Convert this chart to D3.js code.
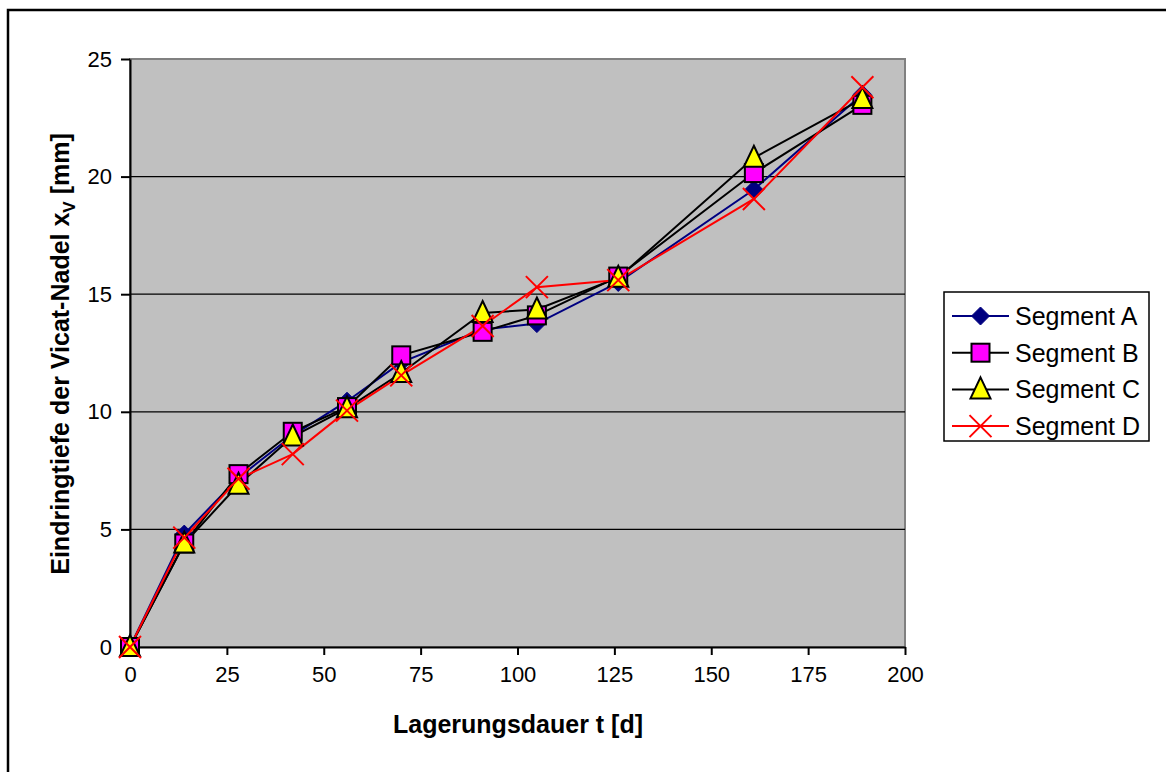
<!DOCTYPE html>
<html><head><meta charset="utf-8">
<script src="https://cdn.jsdelivr.net/npm/d3@7/dist/d3.min.js"></script>
<style>body{margin:0;background:#fff;}svg{display:block;font-family:"Liberation Sans",Arial,sans-serif;}</style>
</head><body><svg id="c" width="1166" height="772"></svg>
<script>
const days = [0, 14, 28, 42, 56, 70, 91, 105, 126, 161, 189];
const segA = [0, 4.8, 7.2, 9.0, 10.45, 12.1, 13.5, 13.75, 15.5, 19.45, 23.5];
const segB = [0, 4.4, 7.35, 9.15, 10.2, 12.4, 13.4, 14.1, 15.75, 20.15, 23.05];
const segC = [0, 4.4, 6.9, 8.95, 10.15, 11.65, 14.2, 14.35, 15.7, 20.8, 23.3];
const segD = [0, 4.65, 7.15, 8.2, 10.05, 11.55, 13.65, 15.3, 15.6, 19.05, 23.8];
const seriesNames = ["Segment A", "Segment B", "Segment C", "Segment D"];
const xTicks = [0, 25, 50, 75, 100, 125, 150, 175, 200];
const yTicks = [0, 5, 10, 15, 20, 25];

const svg = d3.select("#c");
const L = 130, R = 905, T = 59, B = 647;
const x = d3.scaleLinear().domain([0, 200]).range([L, R]);
const y = d3.scaleLinear().domain([0, 25]).range([B, T]);

// outer frame
svg.append("rect").attr("x", 8).attr("y", 10).attr("width", 1200).attr("height", 800)
  .attr("fill", "none").attr("stroke", "#000").attr("stroke-width", 2.5);

// plot area
svg.append("rect").attr("x", L).attr("y", T).attr("width", R - L).attr("height", B - T)
  .attr("fill", "#c0c0c0").attr("stroke", "#808080").attr("stroke-width", 2);

// gridlines
svg.append("g").selectAll("line").data(yTicks.filter(d => d > 0 && d < 25)).join("line")
  .attr("x1", L).attr("x2", R).attr("y1", d => y(d)).attr("y2", d => y(d))
  .attr("stroke", "#000").attr("stroke-width", 1.3);

// axes
const xAxis = d3.axisBottom(x).tickValues(xTicks).tickSize(8).tickSizeOuter(0).tickPadding(11);
const gx = svg.append("g").attr("transform", `translate(0,${B})`).call(xAxis);
const yAxis = d3.axisLeft(y).tickValues(yTicks).tickSize(9).tickSizeOuter(0).tickPadding(9);
const gy = svg.append("g").attr("transform", `translate(${L},0)`).call(yAxis);
[gx, gy].forEach(g => {
  g.attr("font-size", null).attr("font-family", null);
  g.select(".domain").attr("stroke", "#000").attr("stroke-width", 2);
  g.selectAll(".tick line").attr("stroke", "#000").attr("stroke-width", 2);
  g.selectAll(".tick text").attr("fill", "#000").style("font-size", "22px")
    .style("font-family", '"Liberation Sans",Arial,sans-serif');
});

// series
const series = [
  {name: seriesNames[0], vals: segA, line: "#000080", sym: "diamond"},
  {name: seriesNames[1], vals: segB, line: "#000000", sym: "square"},
  {name: seriesNames[2], vals: segC, line: "#000000", sym: "triangle"},
  {name: seriesNames[3], vals: segD, line: "#ff0000", sym: "cross"}
];
const lineGen = d3.line().x((d, i) => x(days[i])).y(d => y(d));

function drawMarker(g, type, cx, cy) {
  if (type === "diamond") {
    g.append("path").attr("d", `M${cx},${cy-9}L${cx+9},${cy}L${cx},${cy+9}L${cx-9},${cy}Z`)
      .attr("fill", "#000080").attr("stroke", "#000080").attr("stroke-width", 1);
  } else if (type === "square") {
    g.append("rect").attr("x", cx - 9).attr("y", cy - 9).attr("width", 18).attr("height", 18)
      .attr("fill", "#ff00ff").attr("stroke", "#000").attr("stroke-width", 2);
  } else if (type === "triangle") {
    g.append("path").attr("d", `M${cx},${cy-12}L${cx+10},${cy+9}L${cx-10},${cy+9}Z`)
      .attr("fill", "#ffff00").attr("stroke", "#000").attr("stroke-width", 2);
  } else {
    g.append("path").attr("d", `M${cx-11},${cy-11}L${cx+11},${cy+11}M${cx+11},${cy-11}L${cx-11},${cy+11}`)
      .attr("fill", "none").attr("stroke", "#ff0000").attr("stroke-width", 2);
  }
}

series.forEach(s => {
  svg.append("path").datum(s.vals).attr("d", lineGen)
    .attr("fill", "none").attr("stroke", s.line).attr("stroke-width", 2);
});
series.forEach(s => {
  const g = svg.append("g");
  s.vals.forEach((v, i) => drawMarker(g, s.sym, x(days[i]), y(v)));
});

// axis titles
svg.append("text").attr("x", 518).attr("y", 733).attr("text-anchor", "middle")
  .style("font-size", "25px").style("font-weight", "bold").text("Lagerungsdauer t [d]");
const yt = svg.append("text").attr("transform", "translate(69,354) rotate(-90)")
  .attr("text-anchor", "middle").style("font-size", "25px").style("font-weight", "bold");
yt.append("tspan").text("Eindringtiefe der Vicat-Nadel x");
yt.append("tspan").attr("dy", 6).style("font-size", "17px").text("V");
yt.append("tspan").attr("dy", -6).text(" [mm]");

// legend
const lg = svg.append("g");
lg.append("rect").attr("x", 944).attr("y", 292).attr("width", 205).attr("height", 149)
  .attr("fill", "#fff").attr("stroke", "#000").attr("stroke-width", 1.5);
series.forEach((s, i) => {
  const cy = 316 + i * 36.7;
  lg.append("line").attr("x1", 952).attr("x2", 1009).attr("y1", cy).attr("y2", cy)
    .attr("stroke", s.line).attr("stroke-width", 2);
  drawMarker(lg, s.sym, 980.5, cy);
  lg.append("text").attr("x", 1015).attr("y", cy + 9).style("font-size", "25px").text(s.name);
});
</script></body></html>
